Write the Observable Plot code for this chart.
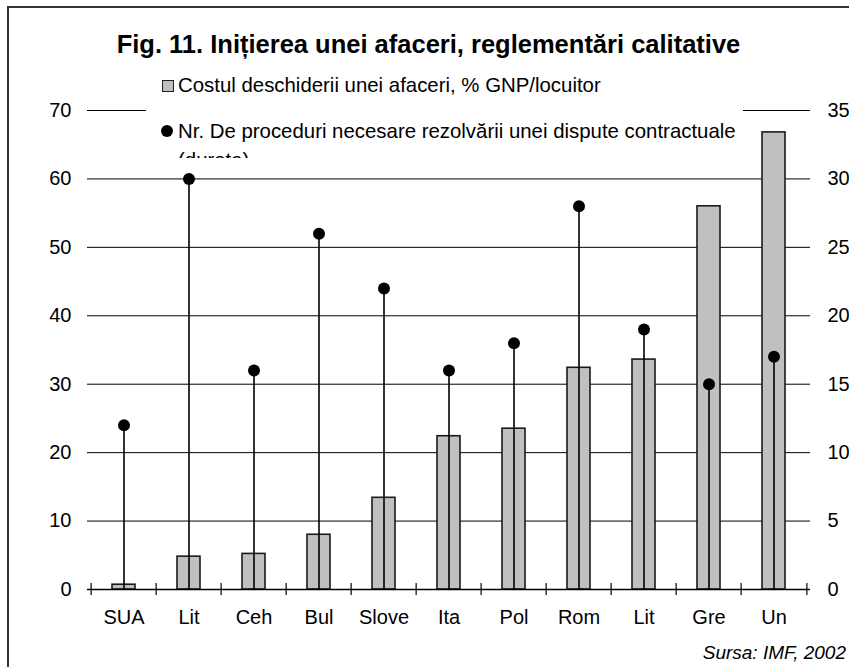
<!DOCTYPE html>
<html>
<head>
<meta charset="utf-8">
<script src="https://cdn.jsdelivr.net/npm/d3@7"></script>
<script src="https://cdn.jsdelivr.net/npm/@observablehq/plot@0.6"></script>
<style>
  html, body { margin: 0; padding: 0; background: #fff; }
  #wrap { position: relative; width: 849px; height: 667px; overflow: hidden; background: #fff;
          font-family: "Liberation Sans", Arial, sans-serif; color: #000; }
  #frame { position: absolute; left: 7px; top: 6px; width: 900px; height: 700px;
           border-left: 2px solid #333; border-top: 2px solid #333; box-sizing: border-box; }
  #chart { position: absolute; left: 0; top: 0; }
  #title { position: absolute; left: 0; width: 857px; top: 30px; text-align: center;
           font-weight: bold; font-size: 25.5px; line-height: 28px; white-space: nowrap; }
  #legend { position: absolute; left: 146px; top: 62px; width: 597px; height: 96px;
            background: #fff; overflow: hidden; font-size: 20.4px; line-height: 20px; }
  #legend .row { position: absolute; left: 32px; white-space: nowrap; }
  #legend .sq { position: absolute; left: 16px; top: 18px; width: 10px; height: 10px;
                background: #c0c0c0; border: 1px solid #222; }
  #legend .dot { position: absolute; left: 15px; top: 63px; width: 12px; height: 12px;
                 border-radius: 50%; background: #000; }
  #source { position: absolute; right: 3px; top: 642px; font-style: italic; font-size: 19px;
            line-height: 22px; white-space: nowrap; }
</style>
</head>
<body>
<div id="wrap">
  <div id="frame"></div>
  <div id="chart"></div>
  <div id="title"></div>
  <div id="legend"></div>
  <div id="source"></div>
</div>
<script>
// ---- data ----
const categories = ["SUA", "Lit", "Ceh", "Bul", "Slove", "Ita", "Pol", "Rom", "Lit", "Gre", "Un"];
const costValues = [0.7, 4.8, 5.2, 8.0, 13.4, 22.4, 23.5, 32.4, 33.6, 56.0, 66.8];   // left axis
const procValues = [12, 30, 16, 26, 22, 16, 18, 28, 19, 15, 17];                     // right axis
const leftTicks = [0, 10, 20, 30, 40, 50, 60, 70];
const rightTicks = [0, 5, 10, 15, 20, 25, 30, 35];
const titleText = "Fig. 11. Inițierea unei afaceri, reglementări calitative";
const legendCost = "Costul deschiderii unei afaceri, % GNP/locuitor";
const legendProc = "Nr. De proceduri necesare rezolvării unei dispute contractuale";
const legendProc2 = "(durata)";
const sourceText = "Sursa: IMF, 2002";

const data = categories.map((c, i) => ({i, c, cost: costValues[i], proc: procValues[i]}));
const idx = data.map(d => d.i);

// ---- layout ----
const W = 849, H = 667;
const mL = 87, mR = 39, mT = 110, mB = 78;
const step = (W - mL - mR) / categories.length;
const pxPerUnit = (H - mT - mB) / 70;
const tickHalf = 6 / pxPerUnit;
const ratio = 70 / 35; // right-axis -> left-axis units

const plot = Plot.plot({
  width: W, height: H,
  marginLeft: mL, marginRight: mR, marginTop: mT, marginBottom: mB,
  style: {fontFamily: '"Liberation Sans", Arial, sans-serif', fontSize: "20px", background: "transparent", color: "#000", overflow: "visible"},
  x: {type: "band", domain: idx, paddingInner: 0.65, paddingOuter: 0.325, axis: null},
  y: {domain: [0, 70], axis: null},
  marks: [
    Plot.gridY(leftTicks, {stroke: "#000", strokeOpacity: 1, strokeWidth: 1}),
    Plot.axisY(leftTicks, {anchor: "left", tickSize: 0, tickPadding: 16, label: null, fontSize: 20}),
    Plot.axisY(rightTicks.map(v => v * ratio), {anchor: "right", tickSize: 0, tickPadding: 17, label: null,
      tickFormat: v => String(v / ratio), fontSize: 20}),
    Plot.barY(data, {x: "i", y: "cost", fill: "#c0c0c0", stroke: "#1a1a1a", strokeWidth: 1.6}),
    Plot.ruleX(data, {x: "i", y1: 0, y2: d => d.proc * ratio, stroke: "#000", strokeWidth: 1.6}),
    Plot.dot(data, {x: "i", y: d => d.proc * ratio, r: 6, fill: "#000", stroke: "none"}),
    Plot.ruleY([0], {stroke: "#000", strokeWidth: 1.3}),
    Plot.ruleX(data, {x: "i", dx: -step / 2, y1: -tickHalf, y2: tickHalf, stroke: "#000", strokeWidth: 1.2}),
    Plot.ruleX(data.slice(-1), {x: "i", dx: step / 2, y1: -tickHalf, y2: tickHalf, stroke: "#000", strokeWidth: 1.2}),
    Plot.axisX(idx, {anchor: "bottom", tickSize: 0, tickPadding: 20, label: null,
      tickFormat: i => categories[i], fontSize: 20})
  ]
});
document.getElementById("chart").appendChild(plot);

document.getElementById("title").textContent = titleText;
document.getElementById("source").textContent = sourceText;

const leg = document.getElementById("legend");
leg.innerHTML = `
  <div class="sq"></div>
  <div class="row" style="top:13px"></div>
  <div class="dot"></div>
  <div class="row" style="top:59px"></div>
  <div class="row" style="top:88px"></div>`;
const rows = leg.querySelectorAll(".row");
rows[0].textContent = legendCost;
rows[1].textContent = legendProc;
rows[2].textContent = legendProc2;
</script>
</body>
</html>
